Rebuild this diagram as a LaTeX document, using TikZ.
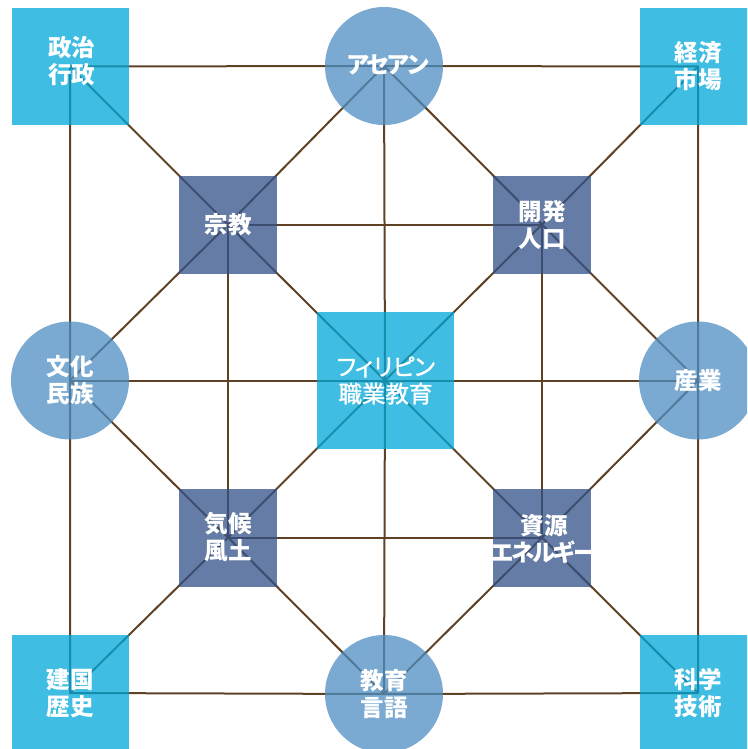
\documentclass[tikz,border=0pt]{standalone}
\usepackage{fontspec}
\setmainfont{Noto Sans CJK JP}
\newfontfamily\midfont{Noto Sans CJK JP}[FakeBold=1.2]
\newcommand\ksp[1]{\kern-#1pt\relax}
\usetikzlibrary{backgrounds}
\definecolor{cornerc}{RGB}{0,167,218}
\definecolor{hubc}{RGB}{78,142,195}
\definecolor{innerc}{RGB}{50,82,136}
\definecolor{linkc}{RGB}{95,66,38}
\tikzset{
  shapebase/.style={fill opacity=0.75, text opacity=1, text=white, align=center, inner sep=0pt,
    font=\fontsize{23.5}{27}\selectfont\bfseries},
  cornerbox/.style={shapebase, rectangle, minimum size=117pt, fill=cornerc},
  hubdisc/.style={shapebase, circle, minimum size=118pt, fill=hubc},
  innerbox/.style={shapebase, rectangle, minimum size=98pt, fill=innerc},
  midbox/.style={shapebase, rectangle, minimum size=137pt, fill=cornerc},
  lbl/.style={text=white, align=center, inner sep=0pt, font=\fontsize{23.5}{27}\selectfont\bfseries},
  link/.style={draw=linkc, line width=2pt, line join=round}
}
\begin{document}
\begin{tikzpicture}[x=1pt,y=-1pt]
\useasboundingbox (0,0) rectangle (747,749);
\clip (0,0) rectangle (747,749);
% corner squares
\node[cornerbox] (tl) at (70,66.5) {};
\node[lbl] (tlt) at (71.5,61) {政治\\行政};
\node[cornerbox] (tr) at (698,66.5) {経済\\市場};
\node[cornerbox] (bl) at (70,693) {建国\\歴史};
\node[cornerbox] (br) at (698,693) {科学\\技術};
% circles
\node[hubdisc] (top) at (384,66) {};
\node[lbl] (topt) at (388,65) {ア\ksp{3.5}セ\ksp{3.5}ア\ksp{3.5}ン};
\node[hubdisc] (lc) at (70,380.5) {文化\\民族};
\node[hubdisc] (rc) at (698,380.5) {産業};
\node[hubdisc] (bot) at (384,694) {教育\\言語};
% inner squares
\node[innerbox] (rel) at (228,224.5) {宗教};
\node[innerbox] (dev) at (542,224.5) {開発\\人口};
\node[innerbox] (cli) at (228,537.5) {気候\\風土};
\node[innerbox] (res) at (542,537.5) {};
\node[lbl] (rest) at (544,538.5) {資源\\エ\ksp{2.8}ネ\ksp{2.8}ル\ksp{2.8}ギ\ksp{2.8}ー};
% center
\node[midbox] (mid) at (385,380.5) {};
\node[lbl, font=\fontsize{23.5}{27}\selectfont\midfont] (midt) at (385.5,380.5)
  {フ\ksp{5}ィ\ksp{5}リ\ksp{3}ピ\ksp{3}ン\\職業教育};
\begin{scope}[on background layer]
\draw[link] (tl.center) -- (top.center) -- (tr.center) -- (rc.center) -- (br.center)
  -- (bot.center) -- (bl.center) -- (lc.center) -- cycle;
\draw[link] (tl.center) -- (rel.center) -- (mid.center) -- (res.center) -- (br.center);
\draw[link] (tr.center) -- (dev.center) -- (mid.center) -- (cli.center) -- (bl.center);
\draw[link] (top.center) -- (rel.center) -- (lc.center) -- (cli.center) -- (bot.center)
  -- (res.center) -- (rc.center) -- (dev.center) -- cycle;
\draw[link] (rel.center) -- (dev.center) -- (res.center) -- (cli.center) -- cycle;
\draw[link] (top.center) -- (mid.center) -- (bot.center);
\draw[link] (lc.center) -- (mid.center) -- (rc.center);
\end{scope}
\end{tikzpicture}
\end{document}
